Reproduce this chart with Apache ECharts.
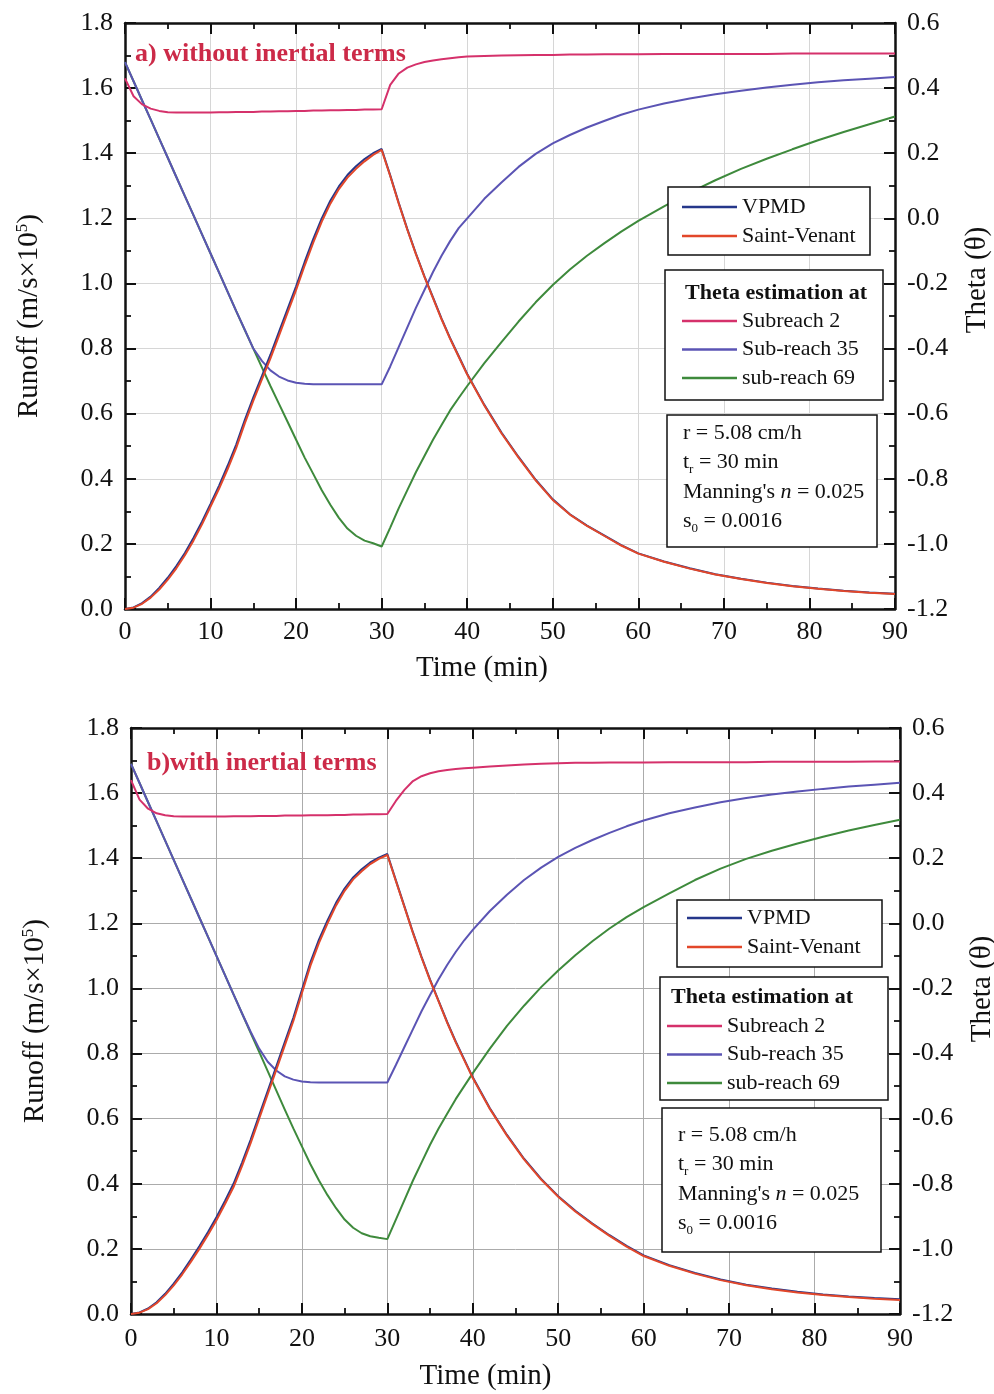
<!DOCTYPE html>
<html><head><meta charset="utf-8">
<script src="https://cdn.jsdelivr.net/npm/echarts@6/dist/echarts.min.js"></script>
<style>html,body{margin:0;padding:0;background:#fff}#c{width:994px;height:1394px}</style>
</head><body><div id="c"></div>
<script>
// ---- shared time axis (min) ----
const T = [0,1,2,3,4,5,6,7,8,9,10,11,12,13,14,15,16,17,18,19,20,21,22,23,24,25,26,27,28,29,30,
  31,32,33,34,35,36,37,38,39,40,42,44,46,48,50,52,54,56,58,60,63,66,69,72,75,78,81,84,87,90];

// ---- panel a) without inertial terms ----
const runoffVPMD_a = [0,0.005,0.018,0.038,0.065,0.096,0.132,0.172,0.218,0.268,0.323,
  0.379,0.44,0.505,0.58,0.65,0.715,0.781,0.851,0.921,0.991,
  1.066,1.136,1.2,1.254,1.298,1.333,1.36,1.382,1.4,1.413,
  1.332,1.247,1.167,1.092,1.022,0.957,0.892,0.832,0.777,0.722,
  0.627,0.542,0.467,0.397,0.337,0.291,0.256,0.226,0.196,0.171,
  0.146,0.125,0.107,0.093,0.081,0.071,0.063,0.056,0.051,0.047];
const runoffSV_a = [0,0.004,0.016,0.035,0.06,0.09,0.125,0.165,0.21,0.26,0.315,
  0.37,0.43,0.495,0.57,0.64,0.705,0.77,0.84,0.91,0.98,
  1.055,1.125,1.19,1.245,1.29,1.325,1.352,1.375,1.395,1.41,
  1.33,1.245,1.165,1.09,1.02,0.955,0.89,0.83,0.775,0.72,
  0.625,0.54,0.465,0.395,0.335,0.29,0.255,0.225,0.195,0.17,
  0.145,0.124,0.106,0.092,0.08,0.07,0.062,0.055,0.05,0.046];
const thetaSub2_a = [0.43,0.375,0.35,0.337,0.33,0.326,0.325,0.325,0.325,0.325,0.325,
  0.326,0.326,0.327,0.327,0.327,0.328,0.328,0.329,0.329,0.33,
  0.33,0.331,0.331,0.332,0.332,0.333,0.333,0.334,0.334,0.335,
  0.41,0.445,0.463,0.473,0.48,0.485,0.489,0.492,0.495,0.497,
  0.499,0.5,0.501,0.502,0.502,0.503,0.503,0.504,0.504,0.504,
  0.505,0.505,0.505,0.505,0.505,0.506,0.506,0.506,0.506,0.506];
const thetaSub35_a = [0.48,0.421,0.362,0.304,0.245,0.186,0.127,0.068,0.01,-0.049,-0.108,
  -0.167,-0.226,-0.285,-0.342,-0.4,-0.438,-0.467,-0.486,-0.498,-0.505,
  -0.508,-0.51,-0.51,-0.51,-0.51,-0.51,-0.51,-0.51,-0.51,-0.51,
  -0.455,-0.395,-0.335,-0.275,-0.22,-0.165,-0.115,-0.07,-0.03,0.0,
  0.06,0.11,0.158,0.198,0.23,0.256,0.279,0.299,0.318,0.334,
  0.353,0.368,0.381,0.392,0.402,0.41,0.418,0.424,0.429,0.434];
const thetaSub69_a = [0.48,0.421,0.362,0.304,0.245,0.186,0.127,0.068,0.01,-0.049,-0.108,
  -0.167,-0.226,-0.285,-0.343,-0.4,-0.458,-0.515,-0.57,-0.625,-0.68,
  -0.735,-0.785,-0.835,-0.88,-0.92,-0.953,-0.975,-0.99,-0.998,-1.008,
  -0.95,-0.89,-0.835,-0.78,-0.73,-0.68,-0.635,-0.59,-0.552,-0.515,
  -0.445,-0.38,-0.317,-0.258,-0.205,-0.157,-0.115,-0.077,-0.041,-0.008,
  0.037,0.079,0.117,0.152,0.183,0.212,0.24,0.265,0.289,0.313];

// ---- panel b) with inertial terms ----
const runoffVPMD_b = [0,0.005,0.017,0.036,0.062,0.093,0.128,0.167,0.208,0.251,0.297,
  0.347,0.4,0.465,0.535,0.61,0.685,0.76,0.835,0.91,0.995,
  1.08,1.15,1.209,1.263,1.307,1.341,1.366,1.387,1.402,1.413,
  1.332,1.252,1.172,1.097,1.027,0.962,0.897,0.837,0.782,0.727,
  0.632,0.55,0.477,0.415,0.362,0.317,0.278,0.242,0.209,0.18,
  0.15,0.126,0.106,0.09,0.078,0.068,0.06,0.054,0.049,0.045];
const runoffSV_b = [0,0.004,0.015,0.033,0.058,0.088,0.122,0.16,0.2,0.243,0.288,
  0.338,0.39,0.455,0.525,0.6,0.675,0.75,0.825,0.9,0.985,
  1.07,1.14,1.2,1.255,1.3,1.335,1.36,1.382,1.398,1.41,
  1.33,1.25,1.17,1.095,1.025,0.96,0.895,0.835,0.78,0.725,
  0.63,0.548,0.475,0.413,0.36,0.315,0.276,0.24,0.207,0.178,
  0.148,0.124,0.104,0.088,0.076,0.066,0.058,0.052,0.047,0.043];
const thetaSub2_b = [0.44,0.38,0.352,0.338,0.332,0.329,0.328,0.328,0.328,0.328,0.328,
  0.328,0.329,0.329,0.329,0.33,0.33,0.33,0.331,0.331,0.331,
  0.332,0.332,0.332,0.333,0.333,0.334,0.334,0.335,0.335,0.336,
  0.376,0.41,0.437,0.452,0.461,0.467,0.471,0.474,0.476,0.478,
  0.482,0.485,0.488,0.49,0.492,0.493,0.493,0.494,0.494,0.494,
  0.495,0.495,0.495,0.495,0.496,0.496,0.496,0.496,0.497,0.497];
const thetaSub35_b = [0.49,0.431,0.372,0.313,0.254,0.195,0.136,0.077,0.018,-0.041,-0.1,
  -0.159,-0.218,-0.277,-0.333,-0.385,-0.425,-0.452,-0.47,-0.48,-0.486,
  -0.488,-0.489,-0.489,-0.489,-0.489,-0.489,-0.489,-0.489,-0.489,-0.489,
  -0.435,-0.38,-0.325,-0.27,-0.22,-0.172,-0.128,-0.088,-0.052,-0.02,
  0.038,0.088,0.133,0.171,0.204,0.232,0.256,0.278,0.298,0.316,
  0.338,0.356,0.372,0.385,0.396,0.405,0.413,0.42,0.426,0.432];
const thetaSub69_b = [0.49,0.431,0.372,0.313,0.254,0.195,0.136,0.077,0.018,-0.041,-0.1,
  -0.159,-0.218,-0.277,-0.336,-0.395,-0.454,-0.513,-0.572,-0.63,-0.685,
  -0.74,-0.79,-0.835,-0.875,-0.91,-0.935,-0.952,-0.961,-0.966,-0.97,
  -0.91,-0.85,-0.79,-0.735,-0.68,-0.63,-0.585,-0.54,-0.5,-0.46,
  -0.385,-0.315,-0.253,-0.196,-0.145,-0.098,-0.055,-0.016,0.019,0.05,
  0.092,0.133,0.168,0.198,0.223,0.245,0.266,0.285,0.302,0.318];

// ---- text ----
const titleA = 'a) without inertial terms';
const titleB = 'b)with inertial terms';
const paramLines = ['r = 5.08 cm/h', '{n|t}{sub|r}{n| = 30 min}', "{n|Manning's }{it|n}{n| = 0.025}", '{n|s}{sub|0}{n| = 0.0016}'];

const FONT = "'Liberation Serif','Times New Roman',serif";
const COL = {vpmd:'#25378a', sv:'#e2472a', s2:'#d5316b', s35:'#5b54b4', s69:'#3e8a3c'};
const INK = '#111';

function pairs(arr){ return T.map((t,i)=>[t, arr[i]]); }
function fmt(v){ return (Math.abs(v)<1e-9?0:v).toFixed(1); }

function xAxes(gi, margin, gap, gridColor, namePad){
  const common = {type:'value', gridIndex:gi, min:0, max:90, interval:10,
    axisLine:{show:true, onZero:false, lineStyle:{color:INK, width:2.5}},
    axisTick:{show:true, inside:true, length:11, lineStyle:{color:INK, width:2}},
    minorTick:{show:true, splitNumber:2, length:6, lineStyle:{color:INK, width:1.8}}};
  return [
    Object.assign({}, common, {position:'bottom',
      axisLabel:{margin, fontFamily:FONT, fontSize:26, color:INK},
      splitLine:{show:true, lineStyle:{color:gridColor, width:1}},
      name:'Time (min)', nameLocation:'middle', nameGap:gap,
      nameTextStyle:{fontFamily:FONT, fontSize:29, color:INK, padding:[0,namePad,0,0]}}),
    Object.assign({}, common, {position:'top', axisLabel:{show:false}, splitLine:{show:false}})
  ];
}
function yAxes(gi, gridColor, thetaPad){
  const tick = {axisLine:{show:true, onZero:false, lineStyle:{color:INK, width:2.5}},
    axisTick:{show:true, inside:true, length:11, lineStyle:{color:INK, width:2}},
    minorTick:{show:true, splitNumber:2, length:6, lineStyle:{color:INK, width:1.8}}};
  return [
    Object.assign({type:'value', gridIndex:gi, position:'left', min:0, max:1.8, interval:0.2,
      axisLabel:{margin:12, fontFamily:FONT, fontSize:26, color:INK, formatter:fmt},
      splitLine:{show:true, lineStyle:{color:gridColor, width:1}},
      name:'{a|Runoff (m/s×10}{s|5}{a|)}', nameLocation:'middle', nameGap:80, nameRotate:90,
      nameTextStyle:{rich:{a:{fontFamily:FONT, fontSize:29, color:INK},
        s:{fontFamily:FONT, fontSize:17, color:INK, padding:[0,0,14,0]}}}}, tick),
    Object.assign({type:'value', gridIndex:gi, position:'right', min:-1.2, max:0.6, interval:0.2,
      axisLabel:{margin:12, fontFamily:FONT, fontSize:26, color:INK, formatter:fmt},
      splitLine:{show:false},
      name:'Theta (θ)', nameLocation:'middle', nameGap:68, nameRotate:90,
      nameTextStyle:{fontFamily:FONT, fontSize:29, color:INK, padding:[0,0,0,thetaPad]}}, tick)
  ];
}
function line(name, color, xi, yi, arr, z){
  return {type:'line', name, xAxisIndex:xi, yAxisIndex:yi, data:pairs(arr),
    symbol:'none', showSymbol:false, lineStyle:{color, width:2}, itemStyle:{color}, z, animation:false};
}
function legend(left, top, names, gap){
  return {left, top, orient:'vertical', data:names, padding:0, itemGap:gap, itemWidth:55, itemHeight:2.5,
    icon:'rect', selectedMode:false, z:20,
    textStyle:{fontFamily:FONT, fontSize:22, color:INK, lineHeight:22}};
}
function box(x,y,w,h){
  return {type:'rect', z:15, shape:{x,y,width:w,height:h}, style:{fill:'#fff', stroke:INK, lineWidth:1.5}};
}
function txt(x,y,text,extra){
  return {type:'text', z:25, x, y, style:Object.assign({text, fontFamily:FONT, fontSize:22, fill:INK, verticalAlign:'middle'}, extra||{})};
}
const rich = {n:{fontFamily:FONT, fontSize:22, fill:INK}, sub:{fontFamily:FONT, fontSize:13, fill:INK, padding:[16,0,0,0]},
  it:{fontFamily:FONT, fontSize:22, fill:INK, fontStyle:'italic'}};
function params(x, ys){
  return ys.map((y,i)=> i===0 ? txt(x,y,paramLines[0]) : txt(x,y,paramLines[i],{rich}));
}

const chart = echarts.init(document.getElementById('c'), null, {renderer:'canvas'});
chart.setOption({
  animation:false,
  backgroundColor:'#fff',
  grid:[{left:125, top:23, width:770, height:586, containLabel:false, outerBoundsMode:'none'},
        {left:131, top:728, width:769, height:586, containLabel:false, outerBoundsMode:'none'}],
  xAxis:[...xAxes(0, 10, 45, '#d6d6d6', 56), ...xAxes(1, 12, 48, '#ababab', 60)],
  yAxis:[...yAxes(0, '#d6d6d6', 72), ...yAxes(1, '#ababab', 64)],
  legend:[
    legend(682, 196, ['VPMD','Saint-Venant'], 7),
    legend(682, 310, ['Subreach 2','Sub-reach 35','sub-reach 69'], 6.5),
    legend(687, 907, ['VPMD','Saint-Venant'], 7),
    legend(667, 1015, ['Subreach 2','Sub-reach 35','sub-reach 69'], 6.5)
  ],
  graphic:[
    box(668,187,202,68), box(665,270,218,130), box(667,415,210,132),
    box(677,900,205,67), box(660,977,228,123), box(662,1108,219,144),
    txt(685,293,'Theta estimation at',{fontWeight:'bold'}),
    txt(671,997,'Theta estimation at',{fontWeight:'bold'}),
    ...params(683,[433,462,492,521]),
    ...params(678,[1135,1164,1194,1223]),
    txt(135,54,titleA,{fontWeight:'bold', fontSize:26, fill:'#cc2a48'}),
    txt(147,763,titleB,{fontWeight:'bold', fontSize:26, fill:'#cc2a48'})
  ],
  series:[
    line('sub-reach 69', COL.s69, 0, 1, thetaSub69_a, 3),
    line('Sub-reach 35', COL.s35, 0, 1, thetaSub35_a, 4),
    line('Subreach 2', COL.s2, 0, 1, thetaSub2_a, 5),
    line('VPMD', COL.vpmd, 0, 0, runoffVPMD_a, 6),
    line('Saint-Venant', COL.sv, 0, 0, runoffSV_a, 7),
    line('sub-reach 69', COL.s69, 2, 3, thetaSub69_b, 3),
    line('Sub-reach 35', COL.s35, 2, 3, thetaSub35_b, 4),
    line('Subreach 2', COL.s2, 2, 3, thetaSub2_b, 5),
    line('VPMD', COL.vpmd, 2, 2, runoffVPMD_b, 6),
    line('Saint-Venant', COL.sv, 2, 2, runoffSV_b, 7)
  ]
});
</script></body></html>
